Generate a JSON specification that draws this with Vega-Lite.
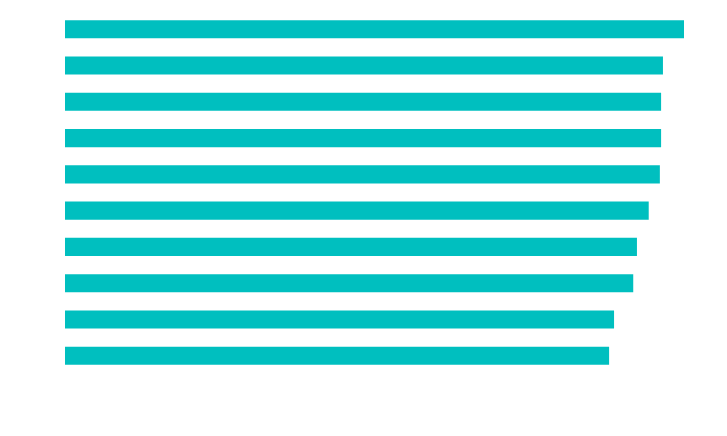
{
  "$schema": "https://vega.github.io/schema/vega-lite/v6.json",
  "autosize": {"type": "none"},
  "padding": {"left": 65, "top": 2, "right": 43, "bottom": 53},
  "width": 619,
  "height": 381,
  "background": "white",
  "config": {"view": {"stroke": null}},
  "data": {
    "values": [
      {"item": "1", "value": 100},
      {"item": "2", "value": 96.6},
      {"item": "3", "value": 96.3},
      {"item": "4", "value": 96.3},
      {"item": "5", "value": 96.1},
      {"item": "6", "value": 94.3},
      {"item": "7", "value": 92.4},
      {"item": "8", "value": 91.8},
      {"item": "9", "value": 88.7},
      {"item": "10", "value": 87.9}
    ]
  },
  "mark": {"type": "bar", "color": "#00BFBF"},
  "encoding": {
    "y": {
      "field": "item",
      "type": "nominal",
      "sort": null,
      "axis": null,
      "scale": {"paddingInner": 0.5, "paddingOuter": 0.5}
    },
    "x": {
      "field": "value",
      "type": "quantitative",
      "axis": null,
      "scale": {"domain": [0, 100], "nice": false}
    }
  }
}
